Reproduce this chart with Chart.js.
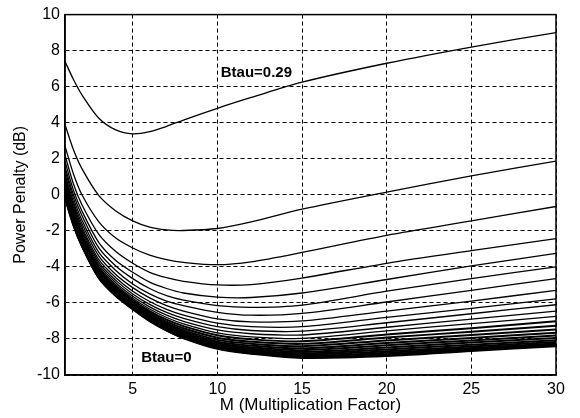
<!DOCTYPE html>
<html>
<head>
<meta charset="utf-8">
<script src="https://cdn.jsdelivr.net/npm/chart.js@4/dist/chart.umd.min.js"></script>
<style>
  html, body { margin: 0; padding: 0; background: #fff; }
  canvas { display: block; }
</style>
</head>
<body>
<canvas id="penaltyChart" width="580" height="418"></canvas>
<script>
// M (multiplication factor) sample points shared by every curve
const mValues = [1, 1.5, 2, 3, 4, 5, 6, 7, 8, 10, 12, 15, 20, 25, 30];

// power penalty (dB), top curve (Btau=0.29) down to Btau=0
const curve01 = [7.4, 6.4, 5.55, 4.25, 3.6, 3.38, 3.5, 3.8, 4.15, 4.8, 5.4, 6.25, 7.3, 8.2, 9.0];
const curve02 = [3.9, 2.5, 1.45, -0.05, -0.9, -1.45, -1.8, -1.95, -1.98, -1.87, -1.5, -0.8, 0.15, 1.05, 1.87];
const curve03 = [2.7, 1.15, 0.0, -1.5, -2.4, -2.95, -3.35, -3.6, -3.75, -3.88, -3.72, -3.2, -2.25, -1.45, -0.65];
const curve04 = [2.2, 0.6, -0.55, -2.2, -3.15, -3.8, -4.3, -4.6, -4.8, -5.0, -4.98, -4.62, -3.8, -3.1, -2.43];
const curve05 = [1.85, 0.25, -0.9, -2.65, -3.65, -4.3, -4.85, -5.2, -5.45, -5.68, -5.7, -5.45, -4.7, -3.95, -3.25];
const curve06 = [1.55, 0.0, -1.15, -2.95, -3.95, -4.65, -5.2, -5.6, -5.85, -6.15, -6.25, -6.12, -5.35, -4.65, -4.0];
const curve07 = [1.35, -0.2, -1.4, -3.2, -4.2, -4.95, -5.5, -5.9, -6.15, -6.52, -6.68, -6.58, -5.95, -5.3, -4.65];
const curve08 = [1.15, -0.4, -1.6, -3.4, -4.42, -5.15, -5.72, -6.15, -6.45, -6.88, -7.05, -7.0, -6.45, -5.9, -5.3];
const curve09 = [1.0, -0.55, -1.78, -3.6, -4.6, -5.35, -5.92, -6.36, -6.68, -7.12, -7.32, -7.32, -6.8, -6.3, -5.77];
const curve10 = [0.85, -0.7, -1.93, -3.75, -4.75, -5.5, -6.08, -6.53, -6.86, -7.32, -7.53, -7.57, -7.1, -6.6, -6.1];
const curve11 = [0.72, -0.83, -2.06, -3.88, -4.88, -5.63, -6.22, -6.68, -7.02, -7.5, -7.71, -7.78, -7.35, -6.9, -6.45];
const curve12 = [0.6, -0.95, -2.18, -3.99, -4.99, -5.74, -6.34, -6.81, -7.16, -7.66, -7.88, -7.97, -7.55, -7.15, -6.75];
const curve13 = [0.5, -1.05, -2.28, -4.09, -5.09, -5.84, -6.45, -6.93, -7.29, -7.8, -8.02, -8.13, -7.75, -7.4, -7.02];
const curve14 = [0.4, -1.15, -2.37, -4.18, -5.18, -5.93, -6.55, -7.04, -7.41, -7.93, -8.15, -8.27, -7.92, -7.6, -7.26];
const curve15 = [0.31, -1.24, -2.45, -4.26, -5.26, -6.01, -6.64, -7.13, -7.51, -8.05, -8.27, -8.4, -8.08, -7.78, -7.47];
const curve16 = [0.23, -1.32, -2.52, -4.33, -5.33, -6.08, -6.71, -7.21, -7.6, -8.15, -8.37, -8.52, -8.22, -7.94, -7.65];
const curve17 = [0.16, -1.39, -2.58, -4.39, -5.39, -6.14, -6.78, -7.28, -7.68, -8.24, -8.46, -8.62, -8.35, -8.08, -7.81];
const curve18 = [0.1, -1.45, -2.64, -4.44, -5.44, -6.19, -6.83, -7.34, -7.74, -8.32, -8.54, -8.72, -8.47, -8.2, -7.95];
const curve19 = [0.04, -1.51, -2.69, -4.49, -5.48, -6.23, -6.88, -7.39, -7.8, -8.38, -8.61, -8.8, -8.58, -8.32, -8.07];
const curve20 = [-0.01, -1.56, -2.73, -4.53, -5.52, -6.26, -6.92, -7.43, -7.85, -8.43, -8.67, -8.87, -8.68, -8.42, -8.17];
const curve21 = [-0.06, -1.6, -2.77, -4.56, -5.55, -6.29, -6.95, -7.47, -7.89, -8.47, -8.72, -8.93, -8.77, -8.5, -8.25];
const curve22 = [-0.1, -1.64, -2.8, -4.59, -5.58, -6.31, -6.97, -7.5, -7.92, -8.5, -8.76, -8.98, -8.85, -8.57, -8.31];
const curve23 = [-0.14, -1.67, -2.83, -4.61, -5.6, -6.33, -6.99, -7.52, -7.94, -8.52, -8.79, -9.02, -8.91, -8.62, -8.36];
const curve24 = [-0.18, -1.7, -2.86, -4.63, -5.62, -6.35, -7.01, -7.54, -7.96, -8.55, -8.82, -9.05, -8.95, -8.67, -8.4];

const curves = [curve01, curve02, curve03, curve04, curve05, curve06, curve07, curve08,
    curve09, curve10, curve11, curve12, curve13, curve14, curve15, curve16,
    curve17, curve18, curve19, curve20, curve21, curve22, curve23, curve24];

const xTicks = [5, 10, 15, 20, 25, 30];
const yTicks = [-10, -8, -6, -4, -2, 0, 2, 4, 6, 8, 10];

// in-plot labels, in data coordinates
const curveLabels = [
    { text: 'Btau=0.29', m: 10.2, dB: 6.75 },
    { text: 'Btau=0', m: 5.5, dB: -9.05 },
];

const FONT = '"Liberation Sans", Arial, sans-serif';

// draws the closed box around the plot and the two Btau labels
const framePlugin = {
    id: 'frame',
    afterDraw(chart) {
        const { ctx, chartArea, scales } = chart;
        ctx.save();
        ctx.strokeStyle = '#000';
        ctx.lineWidth = 1.5;
        ctx.setLineDash([]);
        ctx.strokeRect(chartArea.left, chartArea.top,
            chartArea.right - chartArea.left, chartArea.bottom - chartArea.top);

        ctx.fillStyle = '#000';
        ctx.font = 'bold 15px ' + FONT;
        ctx.textAlign = 'left';
        ctx.textBaseline = 'middle';
        curveLabels.forEach(lbl => {
            ctx.fillText(lbl.text, scales.x.getPixelForValue(lbl.m), scales.y.getPixelForValue(lbl.dB));
        });
        ctx.restore();
    }
};

const ctx = document.getElementById('penaltyChart');

new Chart(ctx, {
    type: 'line',
    data: {
        datasets: curves.map((vals, i) => ({
            label: i === 0 ? 'Btau=0.29' : (i === curves.length - 1 ? 'Btau=0' : 'Btau curve ' + (i + 1)),
            data: vals.map((v, j) => ({ x: mValues[j], y: v })),
            borderColor: '#000',
            borderWidth: i < 12 ? 1.3 : 2,
            pointRadius: 0,
            fill: false,
            tension: 0.3,
        })),
    },
    options: {
        responsive: false,
        devicePixelRatio: 1,
        animation: false,
        layout: {
            padding: { top: 14, right: 24, left: 0, bottom: 0 }
        },
        plugins: {
            legend: { display: false },
            tooltip: { enabled: false },
        },
        scales: {
            x: {
                type: 'linear',
                min: 1,
                max: 30,
                afterBuildTicks: (scale) => {
                    scale.ticks = xTicks.map(v => ({ value: v }));
                },
                afterFit: (scale) => {
                    scale.height = 43;
                },
                grid: {
                    color: '#000',
                    lineWidth: 1,
                    drawTicks: false,
                    tickLength: 0,
                },
                border: { display: true, color: '#000', width: 1.5, dash: [4, 3] },
                ticks: {
                    color: '#000',
                    padding: 5,
                    maxRotation: 0,
                    font: { family: FONT, size: 16 },
                },
                title: {
                    display: true,
                    text: 'M (Multiplication Factor)',
                    color: '#000',
                    font: { family: FONT, size: 17 },
                    padding: { top: 0, bottom: 2 },
                },
            },
            y: {
                type: 'linear',
                min: -10,
                max: 10,
                afterBuildTicks: (scale) => {
                    scale.ticks = yTicks.map(v => ({ value: v }));
                },
                afterFit: (scale) => {
                    scale.width = 65;
                },
                grid: {
                    color: '#000',
                    lineWidth: 1,
                    drawTicks: false,
                    tickLength: 0,
                },
                border: { display: true, color: '#000', width: 1.5, dash: [4, 3] },
                ticks: {
                    color: '#000',
                    padding: 5,
                    font: { family: FONT, size: 16 },
                },
                title: {
                    display: true,
                    text: 'Power Penalty (dB)',
                    color: '#000',
                    font: { family: FONT, size: 16 },
                    padding: { top: 11, bottom: 0 },
                },
            },
        },
    },
    plugins: [framePlugin],
});
</script>
</body>
</html>
